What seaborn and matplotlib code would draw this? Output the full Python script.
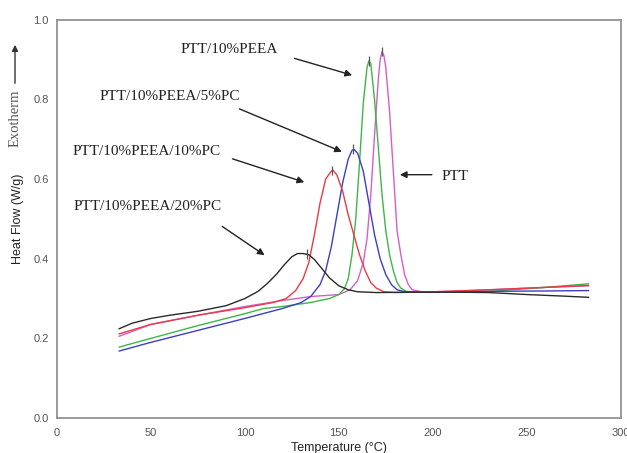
import numpy as np
import pandas as pd
import seaborn as sns
import matplotlib.pyplot as plt
from matplotlib.ticker import MultipleLocator

# DSC cooling curves
ptt_x = [33, 50, 75, 100, 120, 135, 150, 156, 160, 163, 165, 167, 169, 171, 172, 173, 174, 175,
         177, 179, 181, 183, 185, 187, 189, 195, 210, 230, 260, 283]
ptt_y = [0.205, 0.235, 0.258, 0.28, 0.295, 0.305, 0.31, 0.322, 0.345, 0.39, 0.45, 0.56, 0.71, 0.85,
         0.9, 0.92, 0.91, 0.88, 0.77, 0.62, 0.47, 0.41, 0.36, 0.335, 0.322, 0.316, 0.318, 0.322, 0.328, 0.332]

peea_x = [33, 50, 75, 100, 110, 120, 135, 145, 150, 153, 155, 157, 159, 161, 163, 165, 166, 167,
          169, 171, 173, 175, 177, 179, 181, 183, 186, 190, 200, 230, 260, 283]
peea_y = [0.178, 0.2, 0.232, 0.262, 0.275, 0.28, 0.29, 0.3, 0.31, 0.325, 0.35, 0.41, 0.5, 0.64, 0.79,
          0.88, 0.897, 0.89, 0.8, 0.68, 0.56, 0.47, 0.41, 0.37, 0.34, 0.326, 0.318, 0.316, 0.316, 0.318, 0.328, 0.337]

pc5_x = [33, 50, 75, 100, 120, 130, 135, 140, 143, 146, 149, 152, 155, 157, 158, 160, 163, 166,
         169, 172, 175, 178, 181, 185, 200, 230, 260, 283]
pc5_y = [0.168, 0.19, 0.22, 0.25, 0.275, 0.29, 0.305, 0.335, 0.37, 0.43, 0.51, 0.59, 0.65, 0.672,
         0.675, 0.665, 0.62, 0.54, 0.46, 0.4, 0.36, 0.335, 0.322, 0.317, 0.316, 0.318, 0.319, 0.32]

pc10_x = [33, 50, 75, 100, 115, 122, 127, 131, 134, 137, 140, 143, 146, 147, 149, 152, 155, 158,
          161, 164, 167, 170, 174, 180, 200, 230, 260, 283]
pc10_y = [0.211, 0.235, 0.258, 0.277, 0.29, 0.3, 0.32, 0.35, 0.39, 0.46, 0.54, 0.6, 0.62, 0.622,
          0.61, 0.57, 0.51, 0.46, 0.41, 0.37, 0.34, 0.326, 0.317, 0.315, 0.317, 0.322, 0.328, 0.333]

pc20_x = [33, 40, 50, 60, 75, 90, 100, 107, 112, 117, 121, 125, 128, 131, 134, 137, 141, 145,
          150, 155, 160, 170, 190, 210, 230, 250, 270, 283]
pc20_y = [0.224, 0.238, 0.25, 0.258, 0.268, 0.282, 0.3, 0.318, 0.338, 0.362, 0.385, 0.405, 0.413,
          0.413, 0.41, 0.398, 0.375, 0.352, 0.332, 0.322, 0.317, 0.315, 0.316, 0.316, 0.315, 0.31, 0.306, 0.303]

# peak markers (small vertical ticks)
peak_x = [172.9, 166.0, 157.6, 146.5, 133.0]
peak_y = [0.92, 0.897, 0.675, 0.622, 0.412]

names = ["PTT", "PTT/10%PEEA", "PTT/10%PEEA/5%PC", "PTT/10%PEEA/10%PC", "PTT/10%PEEA/20%PC"]
colors = ["#d65ec8", "#3fb548", "#3b3fc4", "#e83a48", "#2a2a2a"]

curves = [(ptt_x, ptt_y), (peea_x, peea_y), (pc5_x, pc5_y), (pc10_x, pc10_y), (pc20_x, pc20_y)]
df = pd.concat([pd.DataFrame({"T": cx, "HF": cy, "sample": n})
                for n, (cx, cy) in zip(names, curves)], ignore_index=True)

sns.set_style("white")
plt.rcParams['font.family'] = ['Liberation Sans', 'DejaVu Sans']

fig = plt.figure(figsize=(6.27, 4.53), dpi=100)
ax = fig.add_axes([0.0909, 0.0773, 0.899, 0.879])

sns.lineplot(data=df, x="T", y="HF", hue="sample", palette=dict(zip(names, colors)),
             sort=False, legend=False, lw=1.0, ax=ax)
for px, py in zip(peak_x, peak_y):
    ax.vlines(px, py - 0.012, py + 0.012, color="#555555", lw=0.9)

ax.set_xlim(0, 300)
ax.set_ylim(0, 1.0)
ax.xaxis.set_major_locator(MultipleLocator(50))
ax.xaxis.set_minor_locator(MultipleLocator(12.5))
ax.yaxis.set_major_locator(MultipleLocator(0.2))
ax.yaxis.set_minor_locator(MultipleLocator(0.05))
ax.tick_params(which="both", direction="in", color="#666666", labelcolor="#555555", labelsize=8)
ax.tick_params(which="major", length=4, width=0.9)
ax.tick_params(which="minor", length=2.5, width=0.8)
ax.tick_params(axis="x", pad=7)
ax.tick_params(axis="y", pad=6)
ax.set_yticklabels([f"{v:.1f}" for v in ax.get_yticks()])
for s in ax.spines.values():
    s.set_color("#8a8a8a")
    s.set_linewidth(1.2)

ax.set_xlabel("Temperature (°C)", fontsize=9, color="#222222", labelpad=3)
ax.set_ylabel("")
fig.text(18 / 627, 1 - 219 / 453, "Heat Flow (W/g)", rotation=90, fontsize=9,
         color="#222222", ha="center", va="center")
fig.text(15 / 627, 1 - 118 / 453, "Exotherm", rotation=90, fontsize=10.5,
         family="Liberation Serif", color="#555555", ha="center", va="center")
ax.annotate("", xy=(15 / 627, 1 - 42 / 453), xytext=(15 / 627, 1 - 86 / 453),
            xycoords="figure fraction", textcoords="figure fraction",
            arrowprops=dict(arrowstyle="-|>", color="#333333", lw=1.0, mutation_scale=9))

serif = dict(family="Liberation Serif", fontsize=11, color="#222222", ha="center", va="center")
arrow = dict(arrowstyle="-|>", color="#222222", lw=1.0, mutation_scale=10)
labels = [
    ("PTT/10%PEEA", (91.5, 0.925), (125, 0.905), (158.5, 0.859)),
    ("PTT/10%PEEA/5%PC", (60, 0.808), (95.7, 0.779), (153, 0.666)),
    ("PTT/10%PEEA/10%PC", (47.5, 0.668), (92, 0.653), (133, 0.59)),
    ("PTT/10%PEEA/20%PC", (48.4, 0.53), (86.7, 0.485), (111.7, 0.405)),
]
for txt, pos, start, end in labels:
    ax.text(pos[0], pos[1], txt, **serif)
    ax.annotate("", xy=end, xytext=start, arrowprops=arrow)
ax.text(211.7, 0.606, "PTT", **serif)
ax.annotate("", xy=(181, 0.611), xytext=(201, 0.611), arrowprops=arrow)

fig.savefig("out.png", dpi=100)
